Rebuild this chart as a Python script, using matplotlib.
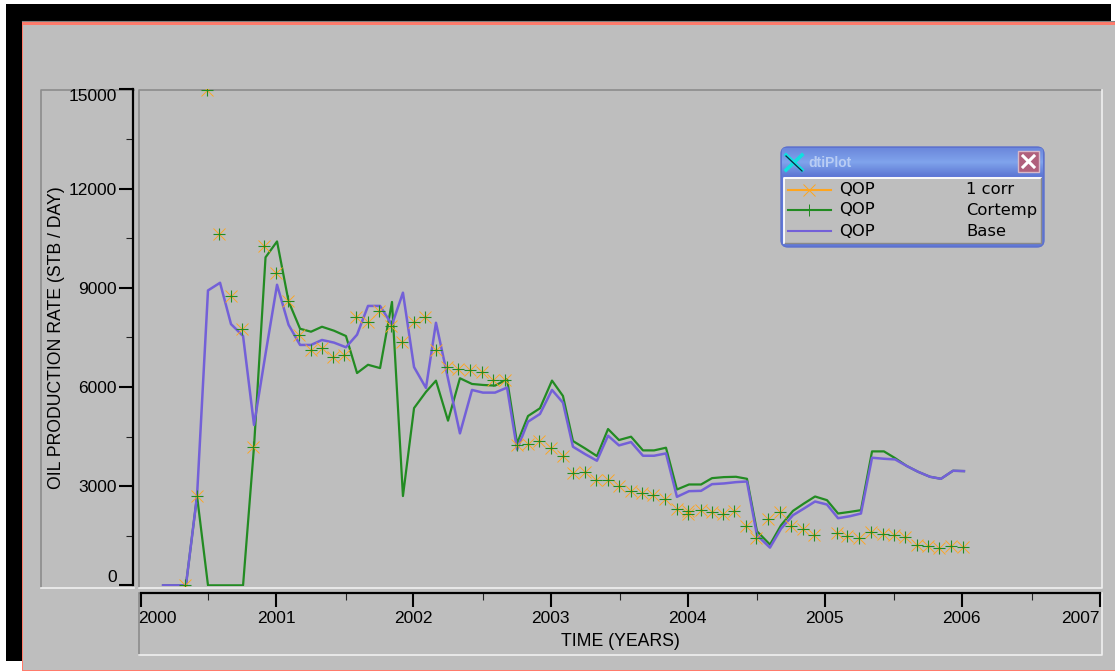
import numpy as np
import matplotlib
matplotlib.use("Agg")
import matplotlib.pyplot as plt
from matplotlib.patches import Rectangle, FancyBboxPatch
from matplotlib.transforms import ScaledTranslation

W, H = 1115, 671
GRAY = "#BEBEBE"

# monthly simulation dates (decimal years)
line_years = [2000.161, 2000.245, 2000.328, 2000.409, 2000.489, 2000.577, 2000.657, 2000.745,
              2000.825, 2000.909, 2000.993, 2001.077, 2001.161, 2001.241, 2001.321, 2001.409,
              2001.496, 2001.577, 2001.657, 2001.745, 2001.832, 2001.912, 2001.993, 2002.080,
              2002.153, 2002.241, 2002.328, 2002.416, 2002.496, 2002.584, 2002.672, 2002.745,
              2002.825, 2002.912, 2003.000, 2003.080, 2003.153, 2003.241, 2003.328, 2003.409,
              2003.489, 2003.577, 2003.664, 2003.745, 2003.832, 2003.912, 2004.000, 2004.088,
              2004.168, 2004.255, 2004.343, 2004.423, 2004.496, 2004.591, 2004.672, 2004.759,
              2004.839, 2004.920, 2005.007, 2005.088, 2005.175, 2005.255, 2005.336, 2005.423,
              2005.504, 2005.591, 2005.672, 2005.759, 2005.839, 2005.927, 2006.007]

cortemp = [0, 0, 0, 2700, 0, 0, 0, 0, 4200, 9920, 10400, 8590, 7760, 7670, 7820, 7700,
           7540, 6420, 6670, 6570, 8570, 2700, 5360, 5850, 6190, 4980, 6263, 6090, 6060, 6040,
           6232, 4293, 5121, 5354, 6192, 5727, 4364, 4142, 3909, 4727, 4394, 4495, 4081, 4081,
           4162, 2899, 3050, 3050, 3242, 3273, 3283, 3222, 1636, 1232, 1818, 2252, 2475, 2687,
           2576, 2172, 2222, 2273, 4051, 4051, 3848, 3606, 3434, 3283, 3222, 3465, 3455]

base = [0, 0, 0, 2700, 8918, 9150, 7900, 7540, 4850, 7000, 9090, 7880, 7270, 7270, 7420, 7340,
        7200, 7580, 8450, 8450, 7880, 8850, 6600, 5970, 7940, 6250, 4596, 5909, 5828, 5828,
        5980, 4111, 4949, 5182, 5909, 5525, 4192, 3970, 3768, 4525, 4232, 4333, 3919, 3919,
        3990, 2677, 2848, 2858, 3060, 3081, 3121, 3141, 1515, 1141, 1717, 2121, 2323, 2535,
        2444, 2030, 2091, 2172, 3859, 3828, 3808, 3606, 3434, 3283, 3222, 3465, 3455]

# observed points
obs_years = [2000.321, 2000.409, 2000.482, 2000.569, 2000.657, 2000.737, 2000.818, 2000.898,
             2000.985, 2001.073, 2001.153, 2001.241, 2001.321, 2001.401, 2001.482, 2001.569,
             2001.657, 2001.737, 2001.825, 2001.905, 2001.993, 2002.073, 2002.153, 2002.234,
             2002.314, 2002.401, 2002.489, 2002.569, 2002.657, 2002.745, 2002.825, 2002.905,
             2002.993, 2003.080, 2003.153, 2003.241, 2003.321, 2003.409, 2003.489, 2003.577,
             2003.657, 2003.737, 2003.825, 2003.912, 2003.993, 2003.993, 2004.088, 2004.168,
             2004.248, 2004.328, 2004.416, 2004.489, 2004.577, 2004.664, 2004.745, 2004.832,
             2004.912, 2005.080, 2005.153, 2005.241, 2005.328, 2005.416, 2005.496, 2005.577,
             2005.664, 2005.745, 2005.825, 2005.912, 2006.000]

obs_rate = [0, 2706, 14970, 10636, 8757, 7757, 4180, 10250, 9450, 8585, 7576, 7121, 7192, 6909,
            6970, 8101, 7970, 8283, 7848, 7363, 7970, 8121, 7121, 6596, 6545, 6505, 6444, 6212,
            6212, 4242, 4273, 4364, 4141, 3909, 3404, 3414, 3172, 3182, 3010, 2838, 2778, 2727,
            2596, 2323, 2252, 2172, 2273, 2212, 2152, 2242, 1798, 1444, 2000, 2222, 1798, 1717,
            1515, 1586, 1485, 1444, 1616, 1545, 1515, 1455, 1222, 1202, 1141, 1202, 1172]

x_major = [2000, 2000.985, 2001.985, 2002.99, 2003.99, 2004.99, 2005.99, 2007]
x_labels = ["2000", "2001", "2002", "2003", "2004", "2005", "2006", "2007"]
x_minor = [2000.487, 2001.494, 2002.495, 2003.495, 2004.496, 2005.494, 2006.5]
y_major = [0, 3000, 6000, 9000, 12000, 15000]
y_minor = [1500, 4500, 7500, 10500, 13500]

legend_rows = [("QOP", "1 corr"), ("QOP", "Cortemp"), ("QOP", "Base")]

plt.rcParams["font.family"] = ["Liberation Sans", "DejaVu Sans"]

fig = plt.figure(figsize=(W / 100, H / 100), dpi=100, facecolor="white")

# window background, in pixel coordinates
bg = fig.add_axes([0, 0, 1, 1], zorder=0)
bg.set_xlim(0, W)
bg.set_ylim(H, 0)
bg.axis("off")
bg.add_patch(Rectangle((6, 4), 1105, 18, fc="black", lw=0))
bg.add_patch(Rectangle((6, 4), 17, 657, fc="black", lw=0))
bg.add_patch(Rectangle((22, 21), W - 22, H - 21, fc="#FF7B6B", lw=0))
bg.add_patch(Rectangle((23, 25), W - 23, H - 26, fc=GRAY, lw=0))
bg.plot([22, W], [21, 21], color="#808080", lw=0.8)
# bevel lines round the plot panels
bg.plot([41, 41, 134], [587, 89.5, 89.5], color="#8C8C8C", lw=1.2)
bg.plot([139, 139, 1101], [587, 89.5, 89.5], color="#8C8C8C", lw=1.2)
bg.plot([41, 134], [587.5, 587.5], color="#F0F0F0", lw=1.2)
bg.plot([139, 1101.5, 1101.5], [587.5, 587.5, 89.5], color="#F0F0F0", lw=1.2)
bg.plot([139, 139], [593, 655], color="#8C8C8C", lw=1.2)
bg.plot([139, 1101.5, 1101.5], [654.5, 654.5, 593], color="#F0F0F0", lw=1.2)

px = lambda v: v / W
py = lambda v: 1 - v / H
ax = fig.add_axes([px(141), py(586), px(1100 - 141), (586 - 89) / H], zorder=1)
ax.patch.set_alpha(0)
ax.set_xlim(2000, 2007)
ax.set_ylim(-20, 15010)

ax.plot(line_years, cortemp, color="#228B22", lw=1.6)
ax.plot(line_years, base, color="#7360D8", lw=1.8)
ax.plot(obs_years, obs_rate, ls="none", marker="x", ms=8.5, mew=0.65, color="#FFA51E")
ax.plot(obs_years, obs_rate, ls="none", marker="+", ms=8, mew=0.8, color="#228B22")

for side in ["top", "right"]:
    ax.spines[side].set_visible(False)
ax.spines["left"].set_position(("outward", 5.8))
ax.spines["bottom"].set_position(("outward", 4.8))
ax.spines["left"].set_linewidth(1.6)
ax.spines["bottom"].set_linewidth(1.6)
ax.spines["left"].set_bounds(0, 15000)

ax.set_xticks(x_major)
ax.set_xticklabels(x_labels)
ax.set_xticks(x_minor, minor=True)
ax.set_yticks(y_major)
ax.set_yticks(y_minor, minor=True)
ax.tick_params(axis="both", which="major", length=10, width=1.5, labelsize=12.5, color="black")
ax.tick_params(axis="both", which="minor", length=5, width=0.8, color="#222222")
ax.tick_params(axis="x", which="major", pad=3.5)
ax.tick_params(axis="y", which="major", pad=1.5)
xl = ax.get_xticklabels()
xl[0].set_ha("left")
xl[0].set_transform(xl[0].get_transform() + ScaledTranslation(-2 / 72, 0, fig.dpi_scale_trans))
xl[-1].set_ha("right")
yl = ax.get_yticklabels()
yl[0].set_va("bottom")
yl[-1].set_va("top")

# chrome and labels on top
top = fig.add_axes([0, 0, 1, 1], zorder=2)
top.set_xlim(0, W)
top.set_ylim(H, 0)
top.axis("off")
top.text(56.5, 338, "OIL PRODUCTION RATE (STB / DAY)", rotation=90, ha="center", va="center", fontsize=12.7)
top.text(620, 641, "TIME (YEARS)", ha="center", va="center", fontsize=12.7)

# floating legend window
win = FancyBboxPatch((785, 151), 255, 92, boxstyle="round,pad=4,rounding_size=7",
                     fc="#6078D8", ec="#5C70CC", lw=1)
top.add_patch(win)
grad = np.linspace(0, 1, 32).reshape(-1, 1)
bar = top.imshow(grad, extent=(782, 1043, 176, 148), aspect="auto", zorder=2,
                 cmap=matplotlib.colors.LinearSegmentedColormap.from_list("bar", ["#6C88DC", "#80A4EC", "#5E78D4"]))
bar.set_clip_path(win)
top.set_xlim(0, W)
top.set_ylim(H, 0)
top.add_patch(Rectangle((784, 177), 257, 66, fc=GRAY, lw=0, zorder=3))
top.plot([784, 784, 1041], [243, 177.5, 177.5], color="white", lw=1.3, zorder=3.5)
top.plot([784.5, 1041, 1041], [243, 243, 178], color="#8A8A8A", lw=1, zorder=3.5)
top.plot([786, 802], [155, 170], color="#10E0E0", lw=2.6, zorder=4)
top.plot([786, 802], [170, 155], color="#10E0E0", lw=2.6, zorder=4)
top.plot([786, 802], [156, 171], color="#102040", lw=0.9, zorder=5)
top.text(808, 163, "dtiPlot", color="#B8CCF4", fontweight="bold", fontsize=10, ha="left", va="center", zorder=4)
top.add_patch(Rectangle((1018, 151), 21, 21, fc="#B0607C", ec="#D8B8C8", lw=1, zorder=4))
top.plot([1023, 1034], [156, 167], color="white", lw=2.2, zorder=5)
top.plot([1023, 1034], [167, 156], color="white", lw=2.2, zorder=5)

row_y = [189.5, 210, 231]
line_colors = ["#FFA51E", "#228B22", "#7360D8"]
line_markers = ["x", "+", None]
for (name, run), y, c, m in zip(legend_rows, row_y, line_colors, line_markers):
    top.plot([788, 831], [y, y], color=c, lw=1.5, zorder=4)
    if m:
        top.plot([809], [y], marker=m, ms=8, mew=0.7, color=c, zorder=4)
    top.text(839, y, name, family="DejaVu Sans", fontsize=11.8, ha="left", va="center", zorder=4)
    top.text(966, y, run, family="DejaVu Sans", fontsize=11.8, ha="left", va="center", zorder=4)

fig.savefig("out.png", dpi=100, facecolor=fig.get_facecolor())
